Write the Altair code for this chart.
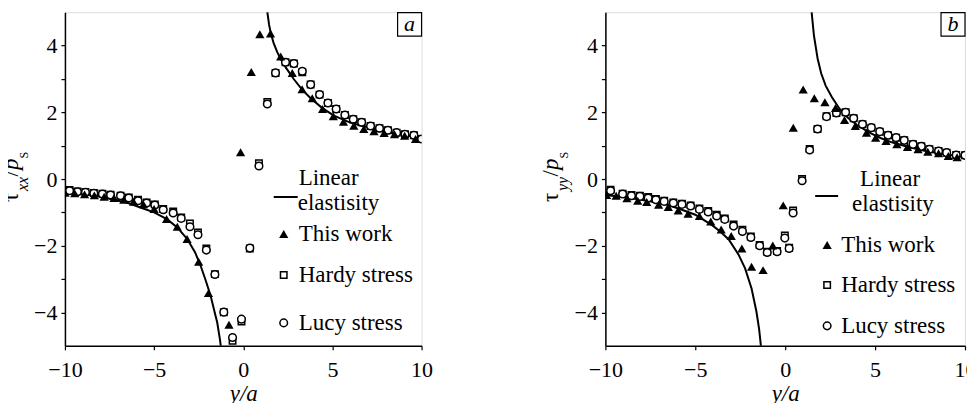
import altair as alt
import pandas as pd

FONT = "Liberation Serif"

# ---------------- Panel a : tau_xx / p_S ----------------
a_curve_left_x = [-10.0, -9.0, -8.0, -7.44, -6.5, -5.57, -5.0, -4.26, -3.7, -3.14, -2.7, -2.39, -2.1, -1.83, -1.6, -1.46, -1.31, -1.26]
a_curve_left_y = [-0.39, -0.45, -0.52, -0.6, -0.71, -0.89, -1.0, -1.21, -1.45, -1.8, -2.2, -2.6, -3.05, -3.5, -4.0, -4.3, -4.8, -5.0]
a_curve_right_x = [1.35, 1.45, 1.55, 1.7, 1.9, 2.1, 2.4, 2.84, 3.3, 3.78, 4.4, 5.08, 6.0, 6.95, 8.0, 8.82, 10.0]
a_curve_right_y = [5.0, 4.62, 4.36, 4.08, 3.81, 3.6, 3.33, 2.99, 2.68, 2.42, 2.14, 1.9, 1.69, 1.55, 1.42, 1.34, 1.23]

a_work_x = [-10.0, -9.45, -8.9, -8.35, -7.8, -7.25, -6.7, -6.15, -5.6, -5.0, -4.3, -3.7, -3.15, -2.5, -1.95, -0.8,
            -0.15, 0.45, 0.93, 1.53, 2.1, 2.75, 3.3, 3.87, 4.45, 5.05, 5.62, 6.2, 6.76, 7.33, 7.9, 8.48, 9.05, 9.66]
a_work_y = [-0.41, -0.43, -0.46, -0.49, -0.53, -0.57, -0.62, -0.68, -0.76, -0.9, -1.2, -1.43, -1.8, -2.48, -3.42, -4.37,
            0.8, 3.21, 4.34, 4.36, 3.67, 3.18, 2.69, 2.42, 2.1, 1.88, 1.72, 1.6, 1.5, 1.43, 1.38, 1.34, 1.3, 1.2]

a_stress_x = [-9.74, -9.3, -8.85, -8.38, -7.9, -7.44, -6.88, -6.42, -5.9, -5.42, -4.96, -4.49, -3.93, -3.48, -2.99, -2.54,
              -2.07, -1.59, -1.09, -0.6, -0.1, 0.37, 0.88, 1.35, 1.81, 2.37, 2.84, 3.31, 3.78, 4.28, 4.75, 5.21, 5.7,
              6.17, 6.64, 7.14, 7.64, 8.11, 8.6, 9.07, 9.57, 10.0]
a_lucy_y = [-0.35, -0.38, -0.4, -0.43, -0.45, -0.48, -0.5, -0.57, -0.65, -0.72, -0.78, -0.92, -1.02, -1.18, -1.43, -1.67,
            -2.13, -2.86, -3.99, -4.75, -4.2, -2.07, 0.39, 2.25, 3.18, 3.5, 3.46, 3.23, 2.83, 2.53, 2.28, 2.1, 1.92,
            1.79, 1.7, 1.59, 1.52, 1.46, 1.39, 1.34, 1.31, 1.2]
a_hardy_y = [-0.33, -0.37, -0.39, -0.42, -0.44, -0.47, -0.5, -0.55, -0.62, -0.7, -0.76, -0.9, -0.97, -1.15, -1.33, -1.6,
             -2.08, -2.85, -3.99, -4.85, -4.27, -2.08, 0.47, 2.31, 3.18, 3.5, 3.46, 3.2, 2.83, 2.53, 2.28, 2.1, 1.92,
             1.79, 1.7, 1.59, 1.52, 1.46, 1.39, 1.34, 1.31, 1.2]

# ---------------- Panel b : tau_yy / p_S ----------------
b_curve_left_x = [-10.0, -9.0, -7.68, -6.5, -5.86, -5.0, -4.05, -3.6, -3.14, -2.6, -2.23, -1.87, -1.6, -1.45, -1.35]
b_curve_left_y = [-0.48, -0.54, -0.65, -0.78, -0.9, -1.07, -1.39, -1.58, -1.81, -2.26, -2.68, -3.28, -3.97, -4.5, -5.0]
b_curve_right_x = [1.47, 1.6, 1.8, 2.0, 2.25, 2.6, 3.03, 3.5, 4.0, 4.66, 5.3, 5.93, 6.8, 7.75, 8.8, 10.0]
b_curve_right_y = [5.0, 4.3, 3.62, 3.17, 2.8, 2.45, 2.1, 1.83, 1.62, 1.4, 1.23, 1.1, 0.97, 0.85, 0.75, 0.65]

b_work_x = [-9.93, -9.4, -8.8, -8.2, -7.7, -7.04, -6.5, -5.95, -5.4, -4.77, -4.14, -3.56, -3.0, -2.41, -1.87, -1.23,
            -0.69, -0.11, 0.45, 1.0, 1.62, 2.21, 2.8, 3.3, 3.9, 4.52, 5.03, 5.61, 6.21, 6.8, 7.39, 7.93, 8.53, 9.07, 9.56]
b_work_y = [-0.48, -0.5, -0.58, -0.65, -0.69, -0.77, -0.84, -0.94, -1.04, -1.11, -1.27, -1.51, -1.71, -2.08, -2.63, -2.73,
            -1.99, -0.79, 1.54, 2.68, 2.42, 2.3, 2.13, 1.77, 1.59, 1.39, 1.24, 1.14, 1.04, 0.96, 0.89, 0.82, 0.77, 0.69, 0.65]

b_stress_x = [-9.71, -9.04, -8.55, -8.08, -7.62, -7.19, -6.73, -6.22, -5.74, -5.26, -4.77, -4.28, -3.81, -3.36, -2.87,
              -2.38, -1.91, -1.42, -1.0, -0.45, -0.02, 0.22, 0.44, 0.94, 1.36, 1.8, 2.3, 2.85, 3.36, 3.81, 4.3, 4.79,
              5.26, 5.72, 6.17, 6.62, 7.11, 7.57, 8.02, 8.53, 8.98, 9.51, 10.0]
b_lucy_y = [-0.35, -0.45, -0.5, -0.52, -0.57, -0.62, -0.67, -0.72, -0.76, -0.81, -0.91, -0.99, -1.11, -1.21, -1.41,
            -1.57, -1.75, -2.0, -2.2, -2.18, -1.77, -2.08, -1.02, -0.05, 0.87, 1.5, 1.87, 1.98, 2.0, 1.82, 1.64, 1.54,
            1.42, 1.31, 1.24, 1.16, 1.04, 0.98, 0.89, 0.84, 0.79, 0.72, 0.71]
b_hardy_y = [-0.32, -0.44, -0.48, -0.5, -0.54, -0.6, -0.65, -0.7, -0.74, -0.79, -0.88, -0.96, -1.07, -1.18, -1.36,
             -1.52, -1.72, -1.98, -2.18, -2.16, -1.69, -2.06, -0.94, 0.0, 0.9, 1.5, 1.88, 1.98, 2.0, 1.82, 1.64, 1.54,
             1.42, 1.31, 1.24, 1.16, 1.04, 0.98, 0.89, 0.84, 0.79, 0.72, 0.71]

legend_labels = ["Linear", "elastisity", "This work", "Hardy stress", "Lucy stress"]

ONE = pd.DataFrame({"k": [0]})


def text_piece(s, x, y, size, italic=False, angle=0, align="left", baseline="alphabetic"):
    return alt.Chart(ONE).mark_text(
        text=s, font=FONT, fontSize=size, fontStyle="italic" if italic else "normal",
        angle=angle, align=align, baseline=baseline, color="black"
    ).encode(x=alt.value(x), y=alt.value(y))


def panel(cl_x, cl_y, cr_x, cr_y, w_x, w_y, s_x, h_y, l_y, width, letter, sub, leg):
    xs = alt.Scale(domain=[-10, 10], nice=False, zero=False)
    ys = alt.Scale(domain=[-5, 5], nice=False, zero=False)
    x_axis = alt.Axis(values=[-10, -5, 0, 5, 10], title="y/a", grid=False, tickSize=4, tickColor="black",
                      tickWidth=1.2, domainColor="black", domainWidth=1.5, labelFont=FONT, labelFontSize=22,
                      labelColor="black", labelPadding=10, labelFlush=False, labelOverlap=False,
                      titleFont=FONT, titleFontSize=23, titleFontStyle="italic",
                      titleFontWeight="normal", titleColor="black", titlePadding=2)
    y_axis = alt.Axis(values=[-4, -3, -2, -1, 0, 1, 2, 3, 4],
                      labelExpr="datum.value % 2 == 0 ? datum.label : ''",
                      title=None, grid=False, tickSize=4, tickColor="black", tickWidth=1.2, domainColor="black",
                      domainWidth=1.5, labelFont=FONT, labelFontSize=22, labelColor="black", labelPadding=4,
                      labelFlush=False, labelOverlap=False)

    curve = pd.DataFrame({
        "x": cl_x + cr_x,
        "y": cl_y + cr_y,
        "branch": ["left"] * len(cl_x) + ["right"] * len(cr_x),
    })
    work = pd.DataFrame({"x": w_x, "y": w_y})
    hardy = pd.DataFrame({"x": s_x, "y": h_y})
    lucy = pd.DataFrame({"x": s_x, "y": l_y})

    line = alt.Chart(curve).mark_line(color="black", strokeWidth=2, clip=True).encode(
        x=alt.X("x:Q", scale=xs, axis=x_axis),
        y=alt.Y("y:Q", scale=ys, axis=y_axis),
        detail="branch:N",
    )
    sq = alt.Chart(hardy).mark_point(shape="square", size=42, filled=False, fill="white", fillOpacity=1,
                                     stroke="black", strokeWidth=1.5, opacity=1, clip=True).encode(
        x=alt.X("x:Q", scale=xs), y=alt.Y("y:Q", scale=ys))
    ci = alt.Chart(lucy).mark_point(shape="circle", size=58, filled=False, fill="white", fillOpacity=1,
                                    stroke="black", strokeWidth=1.5, opacity=1, clip=True).encode(
        x=alt.X("x:Q", scale=xs), y=alt.Y("y:Q", scale=ys))
    tr = alt.Chart(work).mark_point(shape="triangle-up", size=85, filled=True, color="black", opacity=1,
                                    clip=True).encode(
        x=alt.X("x:Q", scale=xs), y=alt.Y("y:Q", scale=ys))

    # panel letter in a box (top-right corner)
    box = alt.Chart(ONE).mark_rect(fill="white", stroke="black", strokeWidth=1.2).encode(
        x=alt.value(width - 24), x2=alt.value(width), y=alt.value(0.5), y2=alt.value(24))
    let = text_piece(letter, width - 12, 12, 22, italic=True, align="center", baseline="middle")

    # legend (inside the plot)
    (lx_line0, lx_line1, ly_line, lx_sym, lx_lin, lx_ela, lx_txt,
     ly_lin, ly_ela, ly_tw, ly_hs, ly_ls) = leg
    leg_line = alt.Chart(ONE).mark_rule(color="black", strokeWidth=2).encode(
        x=alt.value(lx_line0), x2=alt.value(lx_line1), y=alt.value(ly_line))
    leg_tr = alt.Chart(ONE).mark_point(shape="triangle-up", size=85, filled=True, color="black", opacity=1).encode(
        x=alt.value(lx_sym), y=alt.value(ly_tw))
    leg_sq = alt.Chart(ONE).mark_point(shape="square", size=42, filled=False, fill="white", stroke="black",
                                       strokeWidth=1.5, opacity=1).encode(x=alt.value(lx_sym), y=alt.value(ly_hs))
    leg_ci = alt.Chart(ONE).mark_point(shape="circle", size=58, filled=False, fill="white", stroke="black",
                                       strokeWidth=1.5, opacity=1).encode(x=alt.value(lx_sym), y=alt.value(ly_ls))
    t1 = text_piece(legend_labels[0], lx_lin, ly_lin, 23, baseline="middle")
    t2 = text_piece(legend_labels[1], lx_ela, ly_ela, 23, baseline="middle")
    t3 = text_piece(legend_labels[2], lx_txt, ly_tw, 23, baseline="middle")
    t4 = text_piece(legend_labels[3], lx_txt, ly_hs, 23, baseline="middle")
    t5 = text_piece(legend_labels[4], lx_txt, ly_ls, 23, baseline="middle")

    # rotated y-axis title: tau_{sub}/p_S
    bx, sx = -47, -37
    ttl = [
        text_piece("τ", bx, 190, 23, angle=270),
        text_piece(sub, sx, 179, 16, italic=True, angle=270),
        text_piece("/", bx, 164.5, 23, angle=270),
        text_piece("p", bx, 158, 23, italic=True, angle=270),
        text_piece("S", sx, 146.5, 12, angle=270),
    ]

    return alt.layer(line, sq, ci, tr, box, let, leg_line, leg_tr, leg_sq, leg_ci, t1, t2, t3, t4, t5, *ttl).properties(
        width=width, height=334)


pa = panel(a_curve_left_x, a_curve_left_y, a_curve_right_x, a_curve_right_y, a_work_x, a_work_y,
           a_stress_x, a_hardy_y, a_lucy_y, 357, "a", "xx",
           (209, 233, 185, 219, 234, 233, 234, 166, 191, 222, 263, 311))
pb = panel(b_curve_left_x, b_curve_left_y, b_curve_right_x, b_curve_right_y, b_work_x, b_work_y,
           b_stress_x, b_hardy_y, b_lucy_y, 360, "b", "yy",
           (210, 233, 184, 222, 255, 247, 236, 167, 192, 233, 273, 314))

chart = alt.hconcat(pa, pb, spacing=106).properties(
    padding={"left": -9, "top": 3, "right": -10, "bottom": -4}
).configure_view(stroke="black", strokeWidth=1.5).configure(background="white")

chart.save("out.html", embed_options={"renderer": "svg", "actions": False})
